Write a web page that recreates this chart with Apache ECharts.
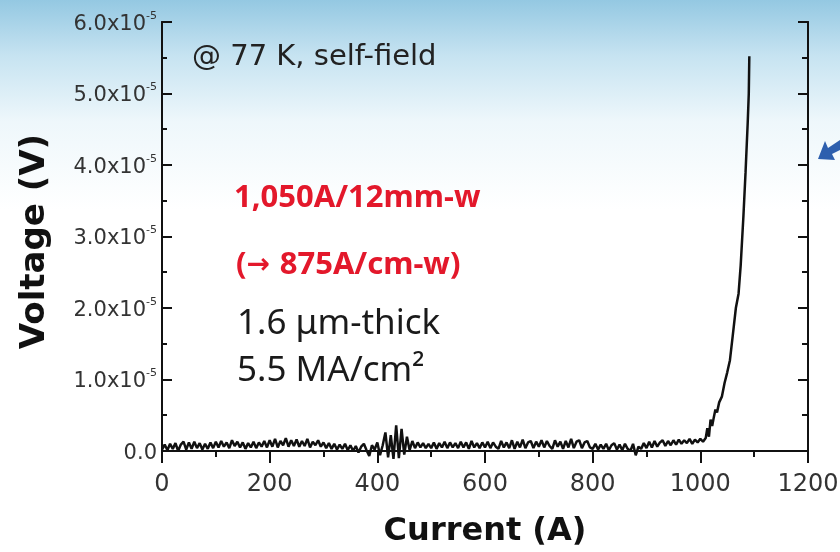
<!DOCTYPE html>
<html>
<head>
<meta charset="utf-8">
<title>Voltage vs Current</title>
<script src="https://cdn.jsdelivr.net/npm/echarts@6/dist/echarts.min.js"></script>
<style>
  html, body { margin: 0; padding: 0; background: #fff; }
  #chart { width: 840px; height: 552px; }
</style>
</head>
<body>
<div id="chart"></div>
<script>
// voltages are in units of 1e-5 V (axis labels carry the x10^-5)
const baseStart = 0;      // A
const baseStep = 5;       // A, sample spacing of the flat part
const baseVoltage = [
  0.02, 0.09, 0.01, 0.10, 0.03, 0.11, 0.00, 0.09, 0.13, 0.02,
  0.12, 0.03, 0.13, 0.04, 0.11, 0.02, 0.10, 0.03, 0.12, 0.04,
  0.13, 0.05, 0.14, 0.06, 0.12, 0.04, 0.15, 0.07, 0.13, 0.05,
  0.12, 0.03, 0.11, 0.05, 0.13, 0.04, 0.12, 0.06, 0.14, 0.05,
  0.15, 0.06, 0.17, 0.05, 0.14, 0.08, 0.18, 0.06, 0.15, 0.07,
  0.16, 0.06, 0.14, 0.07, 0.17, 0.05, 0.13, 0.08, 0.15, 0.06,
  0.12, 0.04, 0.11, 0.03, 0.10, 0.02, 0.09, 0.03, 0.10, 0.01,
  0.08, 0.00, 0.07, -0.02, 0.06, 0.10, 0.01, -0.07, 0.08, 0.02,
  0.12, -0.06, 0.08, 0.26, -0.09, 0.22, -0.11, 0.36, -0.10, 0.31,
  -0.05, 0.20, 0.01, 0.14, 0.04, 0.12, 0.05, 0.11, 0.04, 0.10,
  0.04, 0.12, 0.03, 0.11, 0.05, 0.13, 0.04, 0.12, 0.05, 0.11,
  0.04, 0.13, 0.05, 0.12, 0.03, 0.14, 0.05, 0.11, 0.04, 0.12,
  0.05, 0.13, 0.04, 0.12, 0.06, 0.03, 0.14, 0.05, 0.12, 0.04,
  0.15, 0.03, 0.13, 0.05, 0.16, 0.04, 0.12, 0.14, 0.04, 0.13,
  0.06, 0.15, 0.05, 0.14, 0.07, 0.03, 0.15, 0.06, 0.13, 0.03,
  0.14, 0.05, 0.17, 0.04, 0.13, 0.15, 0.04, 0.12, 0.14, 0.05,
  0.03, 0.10, 0.02, 0.09, 0.03, 0.10, 0.01, 0.08, 0.11, 0.02,
  0.09, 0.01, 0.10, 0.03, 0.00, 0.10, -0.06, 0.06, 0.03, 0.11,
  0.04, 0.13, 0.05, 0.14, 0.06, 0.12, 0.15, 0.07, 0.14, 0.08,
  0.15, 0.09, 0.16, 0.10, 0.15, 0.11, 0.17, 0.10, 0.16, 0.12,
  0.17, 0.13
];
// transition region, read point by point
const riseCurrent = [1010, 1013, 1016, 1019, 1022, 1025, 1028, 1031, 1035, 1040, 1045, 1050, 1055, 1060, 1066, 1071, 1075, 1080, 1084, 1088, 1090, 1091];
const riseVoltage = [0.18, 0.32, 0.20, 0.44, 0.35, 0.47, 0.58, 0.54, 0.68, 0.76, 0.95, 1.10, 1.27, 1.60, 2.00, 2.20, 2.60, 3.28, 3.90, 4.59, 5.00, 5.52];

const xTicks = [0, 200, 400, 600, 800, 1000, 1200];
const yMajor = [0, 1, 2, 3, 4, 5, 6];
const yMinor = [0.5, 1.5, 2.5, 3.5, 4.5, 5.5];

const data = [];
baseVoltage.forEach((v, i) => data.push([baseStart + i * baseStep, v]));
riseCurrent.forEach((c, i) => data.push([c, riseVoltage[i]]));

const axisColor = '#111';
const red = '#e3182b';
const chart = echarts.init(document.getElementById('chart'));

function yAxisCfg(pos, ticks, len, withLabels) {
  return {
    type: 'value', position: pos, min: -0.14, max: 6,
    axisLine: { show: true, lineStyle: { color: axisColor, width: 2 } },
    axisTick: { show: true, inside: true, length: len, customValues: ticks,
      lineStyle: { color: axisColor, width: 2 } },
    axisLabel: withLabels ? {
      customValues: yMajor, margin: 5,
      formatter: v => v === 0 ? '{m|0.0}' : '{m|' + v.toFixed(1) + 'x10}{s|-5}',
      rich: {
        m: { fontFamily: 'DejaVu Sans', fontSize: 21, color: '#333', padding: [5, 0, 0, 0] },
        s: { fontFamily: 'DejaVu Sans', fontSize: 11, color: '#333', padding: [0, 0, 12, 0] }
      }
    } : { show: false },
    splitLine: { show: false }
  };
}

const yLeft = yAxisCfg('left', yMajor, 10, true);
yLeft.name = 'Voltage (V)';
yLeft.nameLocation = 'middle';
yLeft.nameGap = 110;
yLeft.nameRotate = 90;
yLeft.nameTextStyle = { fontFamily: 'DejaVu Sans', fontWeight: 'bold', fontSize: 34, color: '#111' };

chart.setOption({
  animation: false,
  backgroundColor: {
    type: 'linear', x: 0, y: 0, x2: 0, y2: 1,
    colorStops: [
      { offset: 0, color: '#94c8e2' },
      { offset: 0.1, color: '#c6e3f1' },
      { offset: 0.22, color: '#eef7fb' },
      { offset: 0.38, color: '#ffffff' },
      { offset: 1, color: '#ffffff' }
    ]
  },
  grid: { left: 162, right: 32, top: 22, bottom: 91, containLabel: false, outerBoundsMode: 'none' },
  xAxis: [
    {
      type: 'value', position: 'bottom', min: 0, max: 1200, interval: 200,
      name: 'Current (A)', nameLocation: 'middle', nameGap: 55,
      nameTextStyle: { fontFamily: 'DejaVu Sans', fontWeight: 'bold', fontSize: 32, color: '#111' },
      axisLine: { lineStyle: { color: axisColor, width: 2 } },
      axisTick: { inside: false, length: 8, lineStyle: { color: axisColor, width: 2 } },
      minorTick: { show: true, splitNumber: 2, length: 4, lineStyle: { color: axisColor, width: 2 } },
      axisLabel: { fontFamily: 'DejaVu Sans', fontSize: 24, color: '#333', margin: 12,
        customValues: xTicks, formatter: v => String(v) },
      splitLine: { show: false }
    },
    {
      type: 'value', position: 'top', min: 0, max: 1200, interval: 200,
      axisLine: { lineStyle: { color: axisColor, width: 2 } },
      axisTick: { inside: true, length: 12, lineStyle: { color: axisColor, width: 2 } },
      minorTick: { show: true, splitNumber: 2, length: 6, lineStyle: { color: axisColor, width: 2 } },
      axisLabel: { show: false },
      splitLine: { show: false }
    }
  ],
  yAxis: [
    yLeft,
    yAxisCfg('left', yMinor, 5, false),
    yAxisCfg('right', yMajor, 10, false),
    yAxisCfg('right', yMinor, 6, false)
  ],
  series: [{
    type: 'line',
    data: data,
    showSymbol: false,
    lineStyle: { color: '#111', width: 2.5 },
    xAxisIndex: 0, yAxisIndex: 0
  }],
  graphic: [
    { type: 'text', left: 192, top: 43,
      style: { text: '@ 77 K, self-field', fontFamily: 'DejaVu Sans', fontSize: 29, fill: '#222' } },
    { type: 'text', left: 234, top: 183,
      style: { text: '1,050A/12mm-w', fontFamily: 'Noto Sans', fontWeight: 'bold', fontSize: 31, fill: red } },
    { type: 'text', left: 236, top: 250,
      style: {
        text: '{p|(}{a|\u2192\u00a0}{p|875A/cm-w)}',
        rich: {
          p: { fontFamily: 'Noto Sans', fontWeight: 'bold', fontSize: 31, fill: red },
          a: { fontFamily: 'DejaVu Sans', fontWeight: 'bold', fontSize: 28, fill: red }
        }
      } },
    { type: 'text', left: 237, top: 307,
      style: { text: '1.6 \u03bcm-thick', fontFamily: 'Noto Sans', fontSize: 35, fill: '#1a1a1a' } },
    { type: 'text', left: 237, top: 354,
      style: { text: '5.5 MA/cm\u00b2', fontFamily: 'Noto Sans', fontSize: 35, fill: '#1a1a1a' } },
    { type: 'polygon',
      shape: { points: [[818, 159], [825, 141], [828, 148], [840, 140], [840, 150], [832, 154], [835, 160]] },
      style: { fill: '#2d5fae' } }
  ]
});
</script>
</body>
</html>
